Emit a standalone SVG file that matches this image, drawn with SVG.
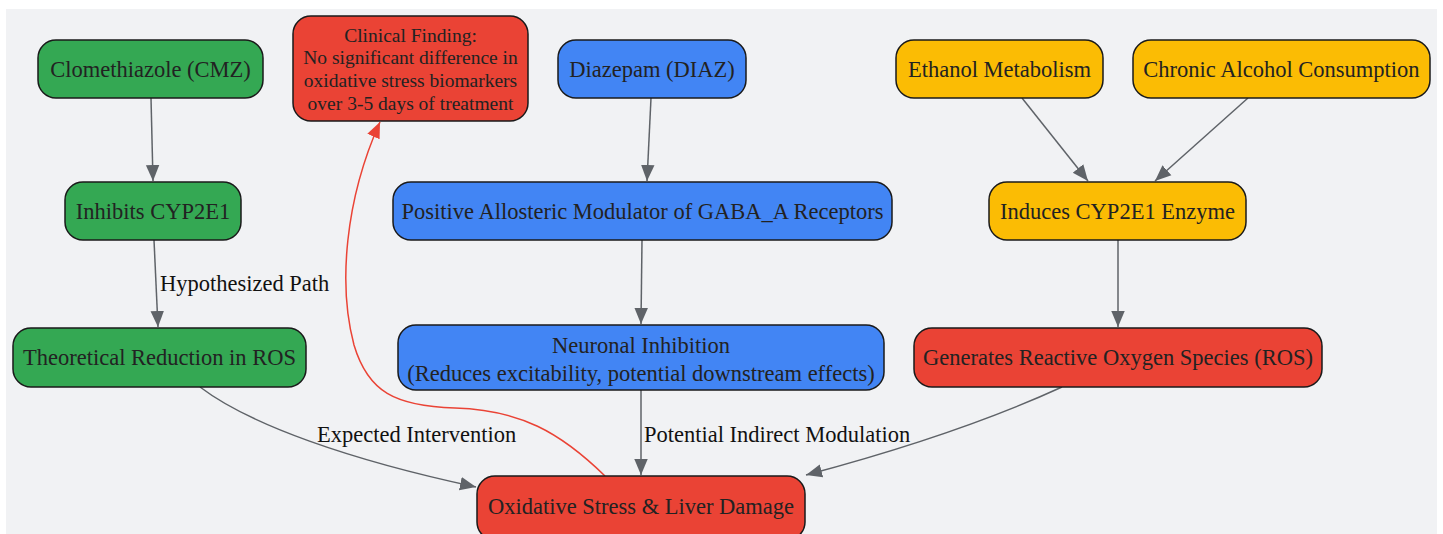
<svg xmlns="http://www.w3.org/2000/svg" width="1443" height="534" viewBox="0 0 1443 534">
<defs>
<marker id="ah" viewBox="0 0 10 10" refX="10" refY="5" markerWidth="16" markerHeight="16" markerUnits="userSpaceOnUse" orient="auto"><path d="M0,0.8 L10,5 L0,9.2 z" fill="#5f6368"/></marker>
<marker id="ahr" viewBox="0 0 10 10" refX="10" refY="5" markerWidth="16" markerHeight="16" markerUnits="userSpaceOnUse" orient="auto"><path d="M0,0.8 L10,5 L0,9.2 z" fill="#ea4335"/></marker>
<style>
.n rect{stroke:#1a1a1a;stroke-width:1.5}
.g rect{fill:#34a853}.b rect{fill:#4285f4}.y rect{fill:#fbbc04}.r rect{fill:#ea4335}
.n text{font-family:"Liberation Serif","Times New Roman",serif;font-size:22.5px;fill:#222;text-anchor:middle}
.n text.s{font-size:19.5px}
.e path{fill:none;stroke:#5f6368;stroke-width:1.5}
.e path.red{stroke:#ea4335}
.lbl{font-family:"Liberation Serif","Times New Roman",serif;font-size:22.5px;fill:#111}
</style>
</defs>
<rect x="6" y="9" width="1431" height="525" fill="#f1f2f4"/>
<g id="connectors" class="e">
<path d="M151,98 L153,181" marker-end="url(#ah)"/>
<path d="M154,240 L158,327" marker-end="url(#ah)"/>
<path d="M651,98 L647,181" marker-end="url(#ah)"/>
<path d="M642,240 L641,324" marker-end="url(#ah)"/>
<path d="M1022,98 L1088,181" marker-end="url(#ah)"/>
<path d="M1248,98 L1155,181" marker-end="url(#ah)"/>
<path d="M1118,240 L1118,327" marker-end="url(#ah)"/>
<path d="M641,390 L641,475" marker-end="url(#ah)"/>
<path d="M200,387 C250,425 350,460 476,487" marker-end="url(#ah)"/>
<path d="M1062,387 C990,420 900,450 806,475" marker-end="url(#ah)"/>
<path class="red" d="M605,476 C560,432 520,410 455,408 C395,406 368,392 354,345 C338,285 345,200 380,122" marker-end="url(#ahr)"/>
<text class="lbl" x="160" y="291">Hypothesized Path</text>
<text class="lbl" x="317" y="442">Expected Intervention</text>
<text class="lbl" x="644" y="442">Potential Indirect Modulation</text>
</g>
<g id="n-cmz" class="n g"><rect x="38" y="40" width="225" height="58" rx="18"/><text x="150.5" y="77">Clomethiazole (CMZ)</text></g>
<g id="n-clin" class="n r"><rect x="293" y="16" width="235" height="105" rx="18"/>
<text class="s" x="410.5" y="42">Clinical Finding:</text>
<text class="s" x="410.5" y="64">No significant difference in</text>
<text class="s" x="410.5" y="87">oxidative stress biomarkers</text>
<text class="s" x="410.5" y="110">over 3-5 days of treatment</text></g>
<g id="n-diaz" class="n b"><rect x="558" y="40" width="188" height="58" rx="18"/><text x="652" y="77">Diazepam (DIAZ)</text></g>
<g id="n-eth" class="n y"><rect x="896" y="40" width="207" height="58" rx="18"/><text x="999.5" y="77">Ethanol Metabolism</text></g>
<g id="n-chr" class="n y"><rect x="1133" y="40" width="297" height="58" rx="18"/><text x="1281.5" y="77">Chronic Alcohol Consumption</text></g>
<g id="n-inh" class="n g"><rect x="65" y="182" width="176" height="58" rx="18"/><text x="153" y="219">Inhibits CYP2E1</text></g>
<g id="n-pam" class="n b"><rect x="393" y="182" width="499" height="58" rx="18"/><text x="642.5" y="219">Positive Allosteric Modulator of GABA_A Receptors</text></g>
<g id="n-ind" class="n y"><rect x="989" y="182" width="257" height="58" rx="18"/><text x="1117.5" y="219">Induces CYP2E1 Enzyme</text></g>
<g id="n-theo" class="n g"><rect x="13" y="328" width="293" height="59" rx="18"/><text x="159.5" y="365">Theoretical Reduction in ROS</text></g>
<g id="n-neu" class="n b"><rect x="398" y="325" width="486" height="65" rx="18"/><text x="641" y="353">Neuronal Inhibition</text><text x="641" y="381">(Reduces excitability, potential downstream effects)</text></g>
<g id="n-gen" class="n r"><rect x="914" y="328" width="408" height="59" rx="18"/><text x="1118" y="365">Generates Reactive Oxygen Species (ROS)</text></g>
<g id="n-ox" class="n r"><rect x="477" y="476" width="328" height="64" rx="18"/><text x="641" y="514">Oxidative Stress &amp; Liver Damage</text></g>
</svg>
